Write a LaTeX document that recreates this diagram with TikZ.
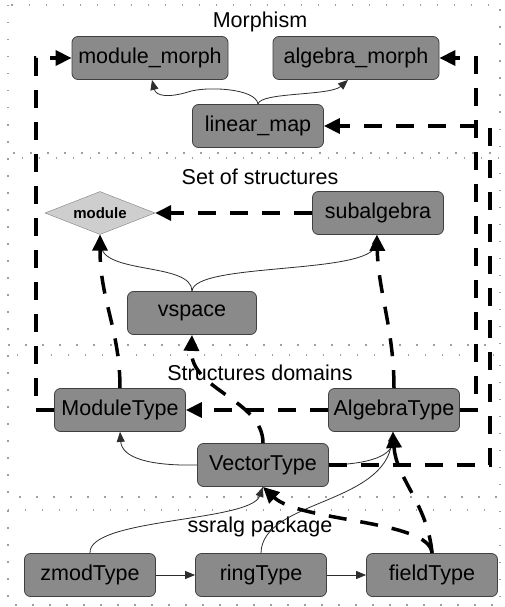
\documentclass[tikz,border=0pt]{standalone}
\usepackage{fontspec}
\setmainfont{Liberation Sans}
\usetikzlibrary{arrows.meta,shapes.geometric}
\definecolor{nodegray}{RGB}{138,138,138}
\definecolor{diagray}{RGB}{206,206,206}
\definecolor{edgegray}{RGB}{45,45,45}
\begin{document}
\begin{tikzpicture}[x=1pt,y=-1pt,
  box/.style={draw=black!75, fill=nodegray, rounded corners=6pt, minimum width=131pt, minimum height=43pt, inner sep=0pt, font=\fontsize{21.5}{24}\selectfont, line width=0.8pt},
  lbl/.style={font=\fontsize{21.5}{24}\selectfont, inner sep=0pt},
  cluster/.style={draw=gray!75, line width=1.5pt, dash pattern=on 1.5pt off 15.5pt},
  thinarrow/.style={draw=edgegray, line width=0.8pt, -{Triangle[length=10pt,width=8pt]}},
  thickarrow/.style={draw=black, line width=3.5pt, dash pattern=on 18pt off 14pt, -{Triangle[length=16pt,width=15pt]}}]
\useasboundingbox (0,0) rectangle (504,607);
\fill[white] (0,0) rectangle (504,607);
% clusters
\draw[cluster] (8,5) rectangle (500,153);
\draw[cluster] (8,158) rectangle (500,345);
\draw[cluster] (8,355) rectangle (500,497);
\draw[cluster] (8,510) rectangle (500,605);
\node[lbl] (l1) at (260,22) {Morphism};
\node[lbl] (l2) at (260,177) {Set of structures};
\node[lbl] (l3) at (260,373) {Structures domains};
\node[lbl] (l4) at (260,527) {ssralg package};
% nodes
\node[box, minimum width=156pt] (mm) at (150,58) {module\_morph};
\node[box, minimum width=166pt] (am) at (356,58) {algebra\_morph};
\node[box] (lm) at (258,126) {linear\_map};
\node[diamond, draw=gray, fill=diagray, aspect=2.5, minimum width=110pt, minimum height=43pt, inner sep=0pt, font=\bfseries\fontsize{15}{17}\selectfont] (md) at (100,213) {module};
\node[box] (sa) at (378,213) {subalgebra};
\node[box, minimum width=129pt] (vs) at (192,313) {vspace};
\node[box] (mt) at (120,410) {ModuleType};
\node[box] (at) at (394,410) {AlgebraType};
\node[box] (vt) at (263,465) {VectorType};
\node[box] (zm) at (90,575) {zmodType};
\node[box] (rt) at (261,575) {ringType};
\node[box] (ft) at (432,575) {fieldType};
% thin solid edges
\draw[thinarrow] (lm.north) .. controls (256,88) and (205,86) .. (188,92) .. controls (168,98) and (156,96) .. ([xshift=2pt]mm.south);
\draw[thinarrow] (lm.north) .. controls (260,92) and (330,96) .. ([xshift=-8pt]am.south);
\draw[thinarrow] (vs.north) .. controls (192,262) and (102,275) .. (md.south);
\draw[thinarrow] (vs.north) .. controls (194,262) and (372,275) .. ([xshift=-1pt]sa.south);
\draw[thinarrow] (vt.west) .. controls (150,466) and (122,458) .. (mt.south);
\draw[thinarrow] (vt.east) .. controls (372,464) and (392,455) .. ([xshift=-1pt]at.south);
\draw[thinarrow] (zm.north) .. controls (88,518) and (250,522) .. (vt.south);
\draw[thinarrow] (rt.north) .. controls (262,500) and (385,505) .. ([xshift=-1pt]at.south);
\draw[thinarrow] (zm.east) -- (rt.west);
\draw[thinarrow] (rt.east) -- (ft.west);
% thick dashed edges
\draw[thickarrow] (mt.west) -- ++(-18,0) |- (mm.west);
\draw[thickarrow] (at.east) -- ++(16,0) |- (am.east);
\draw[thickarrow] (vt.east) -- ++(161,0) |- (lm.east);
\draw[thickarrow] (sa.west) -- (md.east);
\draw[thickarrow] (at.west) -- (mt.east);
\draw[thickarrow] (mt.north) .. controls (120,330) and (100,300) .. (md.south);
\draw[thickarrow] (at.north) .. controls (394,330) and (378,290) .. ([xshift=-1pt]sa.south);
\draw[thickarrow] (vt.north) .. controls (263,400) and (190,390) .. (vs.south);
\draw[thickarrow] (ft.north) .. controls (430,520) and (300,522) .. (vt.south);
\draw[thickarrow] (ft.north) .. controls (428,505) and (396,478) .. ([xshift=-1pt]at.south);
\end{tikzpicture}
\end{document}
